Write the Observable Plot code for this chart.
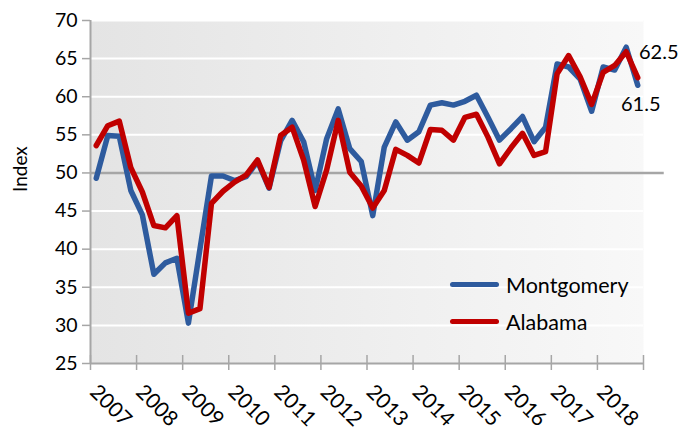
<!DOCTYPE html>
<html>
<head>
<meta charset="utf-8">
<script src="https://cdn.jsdelivr.net/npm/d3@7"></script>
<script src="https://cdn.jsdelivr.net/npm/@observablehq/plot@0.6"></script>
<style>
  html, body { margin: 0; padding: 0; background: #fff; }
  #wrap { position: relative; width: 692px; height: 429px; font-family: Lato, "Open Sans", sans-serif; }
  #legend { position: absolute; left: 450px; top: 266px; font-size: 21.5px; color: #000; }
  #legend .row { display: flex; align-items: center; height: 37px; }
  #legend .sw { width: 49px; height: 5px; border-radius: 3px; margin-right: 7px; }
</style>
</head>
<body>
<div id="wrap"></div>
<script>
const years = [2007, 2008, 2009, 2010, 2011, 2012, 2013, 2014, 2015, 2016, 2017, 2018];
const yTicks = [25, 30, 35, 40, 45, 50, 55, 60, 65, 70];
const seriesNames = ["Montgomery", "Alabama"];
const seriesColors = ["#2E5B9E", "#C00000"];
const montgomery = [
  49.3, 54.9, 54.8, 47.7,
  44.5, 36.7, 38.2, 38.8,
  30.3, 40.0, 49.6, 49.6,
  49.0, 49.5, 51.5, 48.0,
  54.2, 56.9, 54.1, 47.7,
  54.5, 58.4, 53.2, 51.5,
  44.4, 53.4, 56.7, 54.3,
  55.4, 58.9, 59.2, 58.9,
  59.4, 60.2, 57.3, 54.3,
  55.8, 57.4, 54.1, 56.0,
  64.3, 63.9, 62.3, 58.1,
  63.9, 63.5, 66.5, 61.5
];
const alabama = [
  53.6, 56.2, 56.8, 50.7,
  47.5, 43.1, 42.8, 44.4,
  31.6, 32.2, 46.0, 47.6,
  48.8, 49.7, 51.7, 48.1,
  54.9, 56.0, 51.7, 45.6,
  50.4, 56.9, 50.1, 48.3,
  45.4, 47.7, 53.1, 52.3,
  51.3, 55.7, 55.6, 54.3,
  57.3, 57.7, 54.7, 51.2,
  53.3, 55.2, 52.3, 52.8,
  63.0, 65.4, 62.6, 59.0,
  63.2, 64.1, 65.9, 62.5
];
const refLine = 50;

const toRows = (vals, name) => vals.map((v, i) => ({t: years[0] + (i + 0.5) / 4, v, name}));
const mRows = toRows(montgomery, seriesNames[0]);
const aRows = toRows(alabama, seriesNames[1]);
const lastRows = [
  {...aRows[aRows.length - 1], label: alabama[alabama.length - 1].toFixed(1)},
  {...mRows[mRows.length - 1], label: montgomery[montgomery.length - 1].toFixed(1)}
];
const xEnd = years[years.length - 1] + 1;
const xTicks = [...years, xEnd];

const chart = Plot.plot({
  width: 692,
  height: 429,
  marginLeft: 90,
  marginRight: 49,
  marginTop: 20,
  marginBottom: 66,
  style: {fontFamily: "Lato, 'Open Sans', sans-serif", fontSize: "19px", background: "white", overflow: "visible"},
  x: {domain: [years[0], xEnd]},
  y: {domain: [yTicks[0], yTicks[yTicks.length - 1]]},
  marks: [
    Plot.frame({fill: "url(#bggrad)", stroke: null}),
    Plot.ruleY(yTicks.slice(1), {stroke: "white", strokeWidth: 2}),
    Plot.ruleY([refLine], {x1: years[0], x2: xEnd + 0.45, stroke: "#a6a6a6", strokeWidth: 2.5, clip: false}),
    Plot.ruleX([years[0]], {stroke: "#a6a6a6", strokeWidth: 2}),
    Plot.ruleY([yTicks[0]], {stroke: "#a6a6a6", strokeWidth: 2}),
    Plot.axisY({ticks: yTicks, tickSize: 8, tickPadding: 5, stroke: "#a6a6a6", strokeWidth: 1.5, fill: "black", fontSize: 19.5, label: null}),
    Plot.text(["Index"], {frameAnchor: "left", dx: -70, rotate: -90, fontSize: 19, fill: "black"}),
    Plot.axisX({ticks: xTicks, tickSize: 15, dy: -8, stroke: "#a6a6a6", strokeWidth: 1.5, tickFormat: () => "", label: null}),
    Plot.axisX({ticks: xTicks, tickSize: 0, tickPadding: 25, dx: 3, tickRotate: 45, fill: "black", fontSize: 21, label: null,
      tickFormat: d => d === xEnd ? "" : String(d)}),
    Plot.line(mRows, {x: "t", y: "v", stroke: seriesColors[0], strokeWidth: 5.5, strokeLinejoin: "round", strokeLinecap: "round"}),
    Plot.line(aRows, {x: "t", y: "v", stroke: seriesColors[1], strokeWidth: 5.5, strokeLinejoin: "round", strokeLinecap: "round"}),
    Plot.text(lastRows.slice(0, 1), {x: "t", y: "v", text: "label", dx: 21, dy: -25, fontSize: 20, fill: "black"}),
    Plot.text(lastRows.slice(1), {x: "t", y: "v", text: "label", dx: 3, dy: 19, fontSize: 20, fill: "black"})
  ]
});

const ns = "http://www.w3.org/2000/svg";
const defs = document.createElementNS(ns, "defs");
defs.innerHTML = '<linearGradient id="bggrad" x1="0" x2="1" y1="0" y2="0"><stop offset="0" stop-color="#e4e4e4"/><stop offset="1" stop-color="#f8f8f8"/></linearGradient>';
chart.insertBefore(defs, chart.firstChild);

const wrap = document.getElementById("wrap");
wrap.appendChild(chart);

const legend = document.createElement("div");
legend.id = "legend";
seriesNames.forEach((n, i) => {
  const row = document.createElement("div");
  row.className = "row";
  const sw = document.createElement("div");
  sw.className = "sw";
  sw.style.background = seriesColors[i];
  const lab = document.createElement("span");
  lab.textContent = n;
  row.appendChild(sw);
  row.appendChild(lab);
  legend.appendChild(row);
});
wrap.appendChild(legend);
</script>
</body>
</html>
